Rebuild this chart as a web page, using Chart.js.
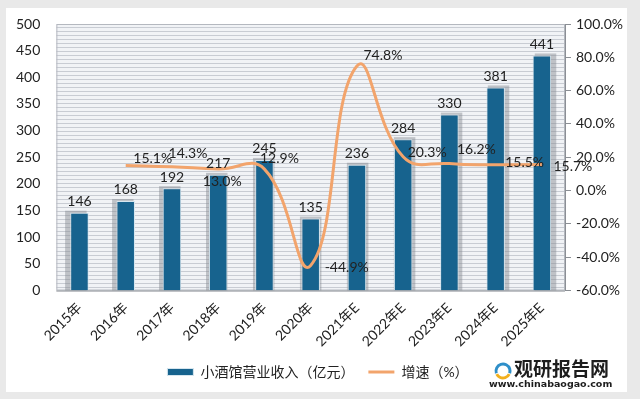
<!DOCTYPE html>
<html>
<head>
<meta charset="utf-8">
<script src="https://cdn.jsdelivr.net/npm/chart.js@4"></script>
<style>
  html, body { margin: 0; padding: 0; background: #e9e9e9; }
  #wrap { width: 640px; height: 399px; }
</style>
</head>
<body>
<div id="wrap"><canvas id="c" width="640" height="399"></canvas></div>
<script>
const years = ['2015年', '2016年', '2017年', '2018年', '2019年', '2020年', '2021年E', '2022年E', '2023年E', '2024年E', '2025年E']
const revenue = [146, 168, 192, 217, 245, 135, 236, 284, 330, 381, 441]
const growth = [null, 15.1, 14.3, 13.0, 12.9, -44.9, 74.8, 20.3, 16.2, 15.5, 15.7]
const leftTicks = [0, 50, 100, 150, 200, 250, 300, 350, 400, 450, 500]
const rightTicks = [-60, -40, -20, 0, 20, 40, 60, 80, 100]

// where each growth label sits next to its point (px)
const growthLabelOffset = [null, [27, -7], [16, -13], [4, 13], [15, -11], [36, 2], [26, -10], [24, -4], [27, -14], [29, -2], [31, 2]]

const FONT = 'Lato, "Noto Sans CJK SC", sans-serif'

function stripePattern(ctx) {
  const p = document.createElement('canvas')
  p.width = 4
  p.height = 4
  const pc = p.getContext('2d')
  pc.fillStyle = '#f1f3f6'
  pc.fillRect(0, 0, 4, 4)
  pc.fillStyle = '#c8ccd3'
  pc.fillRect(0, 3, 4, 1)
  return ctx.createPattern(p, 'repeat')
}

const framePlugin = {
  id: 'frame',
  beforeDraw(chart) {
    const ctx = chart.ctx
    const a = chart.chartArea
    ctx.save()
    ctx.fillStyle = '#e9e9e9'
    ctx.fillRect(0, 0, chart.width, chart.height)
    ctx.fillStyle = '#ffffff'
    ctx.fillRect(6, 8, 621, 384)
    ctx.fillStyle = stripePattern(ctx)
    ctx.fillRect(a.left, a.top, a.right - a.left, a.bottom - a.top)
    ctx.strokeStyle = '#b4b8bf'
    ctx.lineWidth = 1
    ctx.strokeRect(a.left + 0.5, a.top + 0.5, a.right - a.left - 1, a.bottom - a.top - 1)
    ctx.restore()
  },
  beforeDatasetDraw(chart, args) {
    if (args.index !== 0) return
    const ctx = chart.ctx
    const a = chart.chartArea
    const mid = (a.left + a.right) / 2
    ctx.save()
    ctx.fillStyle = 'rgba(130,135,142,0.45)'
    args.meta.data.forEach((bar) => {
      const w = bar.width
      const shift = ((bar.x - mid) / (a.right - a.left)) * 8
      ctx.fillRect(bar.x - w / 2 - 1.5 + shift, bar.y - 2, w + 3, a.bottom - bar.y + 2)
    })
    ctx.restore()
  },
  afterDraw(chart) {
    const ctx = chart.ctx
    const a = chart.chartArea
    ctx.save()
    // axis lines
    ctx.strokeStyle = '#8a8e94'
    ctx.lineWidth = 1
    ctx.beginPath()
    ctx.moveTo(a.left, a.bottom + 0.5)
    ctx.lineTo(a.right, a.bottom + 0.5)
    ctx.moveTo(a.right + 0.5, a.top)
    ctx.lineTo(a.right + 0.5, a.bottom)
    ctx.stroke()

    // bar value labels
    ctx.fillStyle = '#222'
    ctx.font = '14px ' + FONT
    ctx.textAlign = 'center'
    ctx.textBaseline = 'bottom'
    chart.getDatasetMeta(0).data.forEach((bar, i) => {
      ctx.fillText(String(revenue[i]), bar.x, bar.y - 4)
    })

    // growth labels
    ctx.textBaseline = 'middle'
    chart.getDatasetMeta(1).data.forEach((pt, i) => {
      if (growth[i] === null) return
      const o = growthLabelOffset[i]
      ctx.fillText(growth[i].toFixed(1) + '%', pt.x + o[0], pt.y + o[1])
    })

    // watermark
    const lx = 503, ly = 371
    ctx.lineWidth = 3
    ctx.strokeStyle = '#2f8fc9'
    ctx.beginPath()
    ctx.arc(lx, ly, 7, Math.PI * 0.9, Math.PI * 2.1)
    ctx.stroke()
    ctx.strokeStyle = '#f2b01e'
    ctx.beginPath()
    ctx.arc(lx, ly, 7, Math.PI * 0.15, Math.PI * 0.85)
    ctx.stroke()
    ctx.fillStyle = '#1d1d1d'
    ctx.textAlign = 'left'
    ctx.textBaseline = 'alphabetic'
    ctx.font = 'bold 19px "Noto Sans CJK SC", sans-serif'
    ctx.fillText('观研报告网', 514, 376)
    ctx.font = 'bold 9.5px "DejaVu Sans", sans-serif'
    ctx.fillText('www.chinabaogao.com', 489, 387)
    ctx.restore()
  }
}

new Chart(document.getElementById('c'), {
  type: 'bar',
  data: {
    labels: years,
    datasets: [
      {
        label: '小酒馆营业收入（亿元）',
        data: revenue,
        backgroundColor: '#17638e',
        borderColor: '#d6e6ef',
        borderWidth: 1,
        barPercentage: 0.4,
        categoryPercentage: 1,
        pointStyle: 'rect',
        yAxisID: 'y',
        order: 2
      },
      {
        type: 'line',
        label: '增速（%）',
        data: growth,
        borderColor: '#f2a46c',
        backgroundColor: '#f2a46c',
        borderWidth: 3,
        tension: 0.45,
        pointRadius: 0,
        pointStyle: 'line',
        yAxisID: 'y1',
        order: 1
      }
    ]
  },
  options: {
    responsive: false,
    animation: false,
    layout: { padding: { left: 8, right: 12, top: 24, bottom: 10 } },
    plugins: {
      tooltip: { enabled: false },
      legend: {
        position: 'bottom',
        labels: {
          usePointStyle: true,
          pointStyleWidth: 26,
          boxHeight: 7,
          padding: 14,
          color: '#222',
          font: { size: 14, family: FONT },
          sort: (a, b) => a.datasetIndex - b.datasetIndex
        }
      }
    },
    scales: {
      x: {
        grid: { display: false },
        border: { display: false },
        ticks: { color: '#222', maxRotation: 45, minRotation: 45, padding: 1, font: { size: 14, family: FONT } }
      },
      y: {
        min: 0,
        max: 500,
        afterBuildTicks: (s) => { s.ticks = leftTicks.map((v) => ({ value: v })) },
        grid: { display: false },
        border: { display: false },
        ticks: { color: '#222', padding: 8, font: { size: 14, family: FONT } }
      },
      y1: {
        position: 'right',
        min: -60,
        max: 100,
        afterBuildTicks: (s) => { s.ticks = rightTicks.map((v) => ({ value: v })) },
        grid: { drawOnChartArea: false, drawTicks: true, tickLength: 6, color: '#8a8e94' },
        border: { display: false },
        ticks: {
          color: '#222',
          padding: 5,
          font: { size: 14, family: FONT },
          callback: (v) => v.toFixed(1) + '%'
        }
      }
    }
  },
  plugins: [framePlugin]
})
</script>
</body>
</html>
